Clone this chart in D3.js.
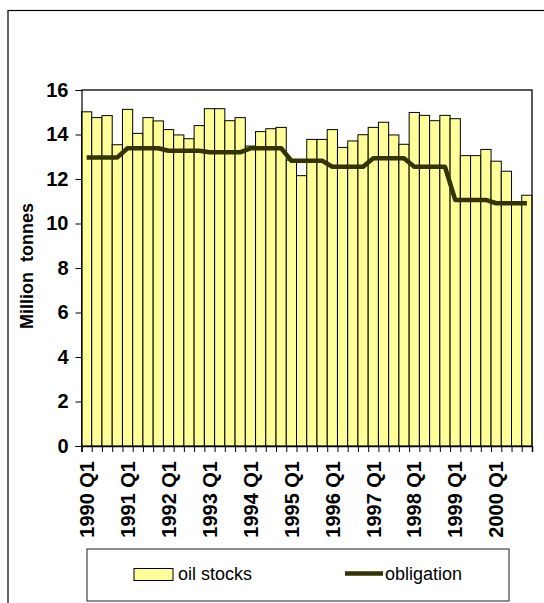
<!DOCTYPE html>
<html lang="en">
<head>
    <meta charset="UTF-8">
    <title>Oil stocks and obligation</title>
    <script src="https://d3js.org/d3.v7.min.js"></script>
    <style>
        body {
            margin: 0;
            padding: 0;
            overflow: hidden;
            background-color: #fff;
        }
        svg text {
            font-family: "Liberation Sans", Arial, sans-serif;
        }
    </style>
</head>
<body>
    <div id="chart"></div>
    <script>
        const width = 544;
        const height = 603;

        // Data (million tonnes), quarterly 1990 Q1 .. 2000 Q4
        const years = [1990, 1991, 1992, 1993, 1994, 1995, 1996, 1997, 1998, 1999, 2000];
        const quarterNames = ["Q1", "Q2", "Q3", "Q4"];
        const quarters = years.flatMap(y => quarterNames.map(q => y + " " + q));
        const oilStocks = [
            15.02, 14.76, 14.85, 13.54,
            15.13, 14.05, 14.76, 14.61,
            14.22, 13.98, 13.81, 14.40,
            15.16, 15.16, 14.62, 14.76,
            13.48, 14.13, 14.26, 14.32,
            12.85, 12.15, 13.78, 13.78,
            14.22, 13.42, 13.71, 13.99,
            14.32, 14.55, 13.98, 13.56,
            14.99, 14.86, 14.62, 14.86,
            14.71, 13.05, 13.05, 13.33,
            12.80, 12.35, 10.90, 11.27
        ];
        const obligation = [
            12.97, 12.97, 12.97, 12.97,
            13.38, 13.38, 13.38, 13.38,
            13.27, 13.27, 13.27, 13.27,
            13.20, 13.20, 13.20, 13.20,
            13.38, 13.38, 13.38, 13.38,
            12.82, 12.82, 12.82, 12.82,
            12.55, 12.55, 12.55, 12.55,
            12.93, 12.93, 12.93, 12.93,
            12.55, 12.55, 12.55, 12.55,
            11.06, 11.06, 11.06, 11.06,
            10.91, 10.91, 10.91, 10.91
        ];
        const yTicks = [0, 2, 4, 6, 8, 10, 12, 14, 16];

        const plot = {left: 81.5, right: 532, top: 90, bottom: 446};

        const svg = d3.select("#chart")
            .append("svg")
            .attr("width", width)
            .attr("height", height);

        // Outer chart border (runs off the right and bottom edges)
        svg.append("rect")
            .attr("x", 8).attr("y", 10.5)
            .attr("width", 560).attr("height", 620)
            .attr("fill", "none")
            .attr("stroke", "#000")
            .attr("stroke-width", 1.2);

        const x = d3.scaleBand()
            .domain(quarters)
            .range([plot.left, plot.right])
            .padding(0);

        const xEdge = d3.scaleLinear()
            .domain([0, quarters.length])
            .range([plot.left, plot.right]);

        const y = d3.scaleLinear()
            .domain([0, 16])
            .range([plot.bottom, plot.top]);

        // Bars
        svg.append("g")
            .selectAll("rect")
            .data(oilStocks)
            .enter().append("rect")
            .attr("x", (d, i) => x(quarters[i]))
            .attr("y", d => y(d))
            .attr("width", x.bandwidth())
            .attr("height", d => y(0) - y(d))
            .attr("fill", "#ffff99")
            .attr("stroke", "#000")
            .attr("stroke-width", 1);

        // Plot frame top and right
        svg.append("path")
            .attr("d", `M${plot.left},${plot.top}H${plot.right}V${plot.bottom}`)
            .attr("fill", "none")
            .attr("stroke", "#222")
            .attr("stroke-width", 1.5);

        // Obligation line
        const line = d3.line()
            .x((d, i) => x(quarters[i]) + x.bandwidth() / 2)
            .y(d => y(d));

        svg.append("path")
            .datum(obligation)
            .attr("d", line)
            .attr("fill", "none")
            .attr("stroke", "#333300")
            .attr("stroke-width", 4.5)
            .attr("stroke-linejoin", "round");

        // Y axis
        const yAxis = svg.append("g")
            .attr("transform", `translate(${plot.left},0)`)
            .call(d3.axisLeft(y).tickValues(yTicks).tickSize(6).tickPadding(7));
        yAxis.selectAll("text")
            .attr("font-size", 20)
            .attr("font-weight", "bold")
            .attr("fill", "#000");
        yAxis.select(".domain").attr("stroke", "#000").attr("stroke-width", 1.2);

        // X axis: ticks at each bar boundary
        const xAxis = svg.append("g")
            .attr("transform", `translate(0,${plot.bottom})`)
            .call(d3.axisBottom(xEdge)
                .tickValues(d3.range(quarters.length + 1))
                .tickSize(6)
                .tickFormat(""));
        xAxis.select(".domain").attr("stroke", "#000").attr("stroke-width", 1.5);

        // Year labels (Q1 only)
        svg.append("g")
            .selectAll("text")
            .data(quarters.filter(q => q.endsWith("Q1")))
            .enter().append("text")
            .attr("transform", d => `translate(${x(d) + x.bandwidth() / 2},${plot.bottom + 15}) rotate(-90)`)
            .attr("dy", "0.36em")
            .attr("text-anchor", "end")
            .attr("font-size", 20)
            .attr("font-weight", "bold")
            .text(d => d);

        // Y axis title
        svg.append("text")
            .attr("transform", `translate(27,${(plot.top + plot.bottom) / 2 - 2}) rotate(-90)`)
            .attr("dy", "0.35em")
            .attr("text-anchor", "middle")
            .attr("font-size", 18)
            .attr("font-weight", "bold")
            .style("white-space", "pre")
            .text("Million  tonnes");

        // Legend
        const legend = svg.append("g");
        legend.append("rect")
            .attr("x", 87).attr("y", 549)
            .attr("width", 422).attr("height", 52)
            .attr("fill", "#fff")
            .attr("stroke", "#444")
            .attr("stroke-width", 1.2);
        legend.append("rect")
            .attr("x", 134).attr("y", 568.5)
            .attr("width", 39).attr("height", 12)
            .attr("fill", "#ffff99")
            .attr("stroke", "#000");
        legend.append("text")
            .attr("x", 178).attr("y", 580)
            .attr("font-size", 18)
            .text("oil stocks");
        legend.append("line")
            .attr("x1", 345).attr("x2", 383)
            .attr("y1", 573.5).attr("y2", 573.5)
            .attr("stroke", "#333300")
            .attr("stroke-width", 4.5);
        legend.append("text")
            .attr("x", 385).attr("y", 580)
            .attr("font-size", 18)
            .text("obligation");
    </script>
</body>
</html>
